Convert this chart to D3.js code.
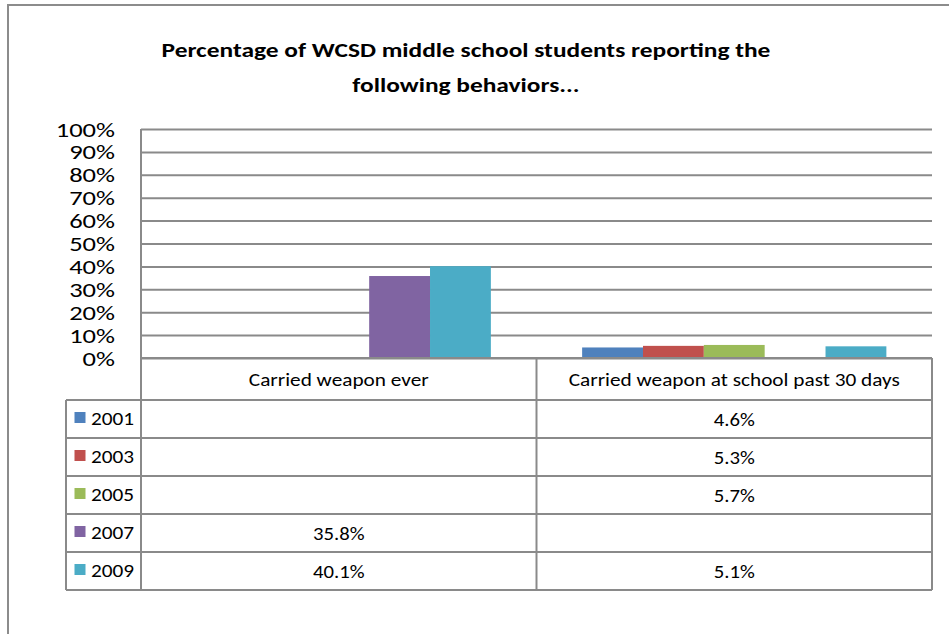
<!DOCTYPE html>
<html>
<head>
<meta charset="utf-8">
<script src="https://cdn.jsdelivr.net/npm/d3@7"></script>
<style>
  html, body { margin: 0; padding: 0; background: #fff; }
  svg { display: block; }
  text { font-family: Carlito, Calibri, Lato, "Open Sans", sans-serif; fill: #000; }
</style>
</head>
<body>
<svg id="chart" width="949" height="634"></svg>
<script>
// Survey categories and survey years
const categories = ["Carried weapon ever", "Carried weapon at school past 30 days"];
const years = ["2001", "2003", "2005", "2007", "2009"];
const yearColors = ["#4F81BD", "#C0504D", "#9BBB59", "#8064A2", "#4BACC6"];

// Percent values per year, one entry per category (null = not surveyed)
const values2001 = [null, 4.6];
const values2003 = [null, 5.3];
const values2005 = [null, 5.7];
const values2007 = [35.8, null];
const values2009 = [40.1, 5.1];
const seriesValues = [values2001, values2003, values2005, values2007, values2009];

const yTicks = [0, 10, 20, 30, 40, 50, 60, 70, 80, 90, 100];
const titleLines = ["Percentage of WCSD middle school students reporting the", "following behaviors..."];

const svg = d3.select("#chart");
const gridColor = "#8a8a8a";

// widen glyphs horizontally while keeping the anchor point
function stretch(sel, sx) {
  sel.each(function () {
    const len = this.getComputedTextLength();
    d3.select(this).attr("textLength", len * sx).attr("lengthAdjust", "spacingAndGlyphs");
  });
}

// outer chart frame
svg.append("rect")
  .attr("x", 8).attr("y", 5)
  .attr("width", 1000).attr("height", 700)
  .attr("fill", "#fff")
  .attr("stroke", "#8c8c8c").attr("stroke-width", 2);

// layout
const plot = { left: 141, right: 932, top: 129, bottom: 358 };
const table = { left: 66, headerBottom: 400, bottom: 590 };

const x0 = d3.scaleBand().domain(categories).range([plot.left, plot.right]);
const x1 = d3.scaleBand().domain(years).range([0, x0.bandwidth()]).paddingInner(0).paddingOuter(0.75);
const y = d3.scaleLinear().domain([0, 100]).range([plot.bottom, plot.top]);
const rowY = d3.scaleBand().domain(years).range([table.headerBottom, table.bottom]);

// title
svg.append("g")
  .selectAll("text")
  .data(titleLines)
  .join("text")
  .attr("text-anchor", "middle")
  .attr("font-weight", "bold")
  .attr("font-size", 20)
  .attr("x", 466)
  .attr("y", (d, i) => 57 + i * 35)
  .text(d => d)
  .call(stretch, 1.27);

// y axis with gridlines
const yAxis = svg.append("g")
  .attr("transform", `translate(${plot.left},0)`)
  .call(d3.axisLeft(y)
    .tickValues(yTicks)
    .tickFormat(d => d + "%")
    .tickSize(-(plot.right - plot.left))
    .tickPadding(26));
yAxis.select(".domain").remove();
yAxis.selectAll(".tick line")
  .attr("stroke", gridColor).attr("stroke-width", 2);
yAxis.selectAll(".tick text")
  .attr("font-size", 19.5)
  .attr("dy", "0.36em")
  .call(stretch, 1.36);

// bars
const barData = [];
years.forEach((yr, si) => {
  categories.forEach((cat, ci) => {
    const v = seriesValues[si][ci];
    if (v != null) barData.push({ year: yr, cat, value: v, color: yearColors[si] });
  });
});
svg.append("g")
  .selectAll("rect")
  .data(barData)
  .join("rect")
  .attr("x", d => x0(d.cat) + x1(d.year))
  .attr("width", x1.bandwidth())
  .attr("y", d => y(d.value))
  .attr("height", d => y(0) - y(d.value))
  .attr("fill", d => d.color);

// data table grid
const grid = svg.append("g")
  .attr("stroke", gridColor).attr("stroke-width", 2).attr("fill", "none");
// vertical lines
grid.append("line").attr("x1", plot.left).attr("x2", plot.left).attr("y1", plot.top).attr("y2", table.bottom);
grid.append("line").attr("x1", table.left).attr("x2", table.left).attr("y1", table.headerBottom).attr("y2", table.bottom);
categories.forEach(c => {
  const xr = x0(c) + x0.bandwidth();
  grid.append("line").attr("x1", xr).attr("x2", xr).attr("y1", plot.bottom).attr("y2", table.bottom);
});
// horizontal lines
grid.append("line").attr("x1", plot.left).attr("x2", plot.right).attr("y1", plot.bottom).attr("y2", plot.bottom);
years.forEach(yr => {
  grid.append("line").attr("x1", table.left).attr("x2", plot.right)
    .attr("y1", rowY(yr)).attr("y2", rowY(yr));
});
grid.append("line").attr("x1", table.left).attr("x2", plot.right)
  .attr("y1", table.bottom).attr("y2", table.bottom);

// category headers
svg.append("g")
  .selectAll("text")
  .data(categories)
  .join("text")
  .attr("x", d => x0(d) + x0.bandwidth() / 2)
  .attr("y", (plot.bottom + table.headerBottom) / 2)
  .attr("dy", "0.36em")
  .attr("text-anchor", "middle")
  .attr("font-size", 18.5)
  .text(d => d)
  .call(stretch, 1.15);

// legend keys + year labels
const legendRows = svg.append("g")
  .selectAll("g")
  .data(years)
  .join("g")
  .attr("transform", d => `translate(0,${rowY(d) + rowY.bandwidth() / 2})`);
legendRows.append("rect")
  .attr("x", 74.5).attr("y", -7)
  .attr("width", 11).attr("height", 11)
  .attr("fill", (d, i) => yearColors[i]);
legendRows.append("text")
  .attr("x", 91)
  .attr("dy", "0.34em")
  .attr("font-size", 18.5)
  .text(d => d)
  .call(stretch, 1.15);

// table values
svg.append("g")
  .selectAll("text")
  .data(barData)
  .join("text")
  .attr("x", d => x0(d.cat) + x0.bandwidth() / 2)
  .attr("y", d => rowY(d.year) + rowY.bandwidth() / 2)
  .attr("dy", "0.36em")
  .attr("text-anchor", "middle")
  .attr("font-size", 18.5)
  .text(d => d.value.toFixed(1) + "%")
  .call(stretch, 1.12);
</script>
</body>
</html>
